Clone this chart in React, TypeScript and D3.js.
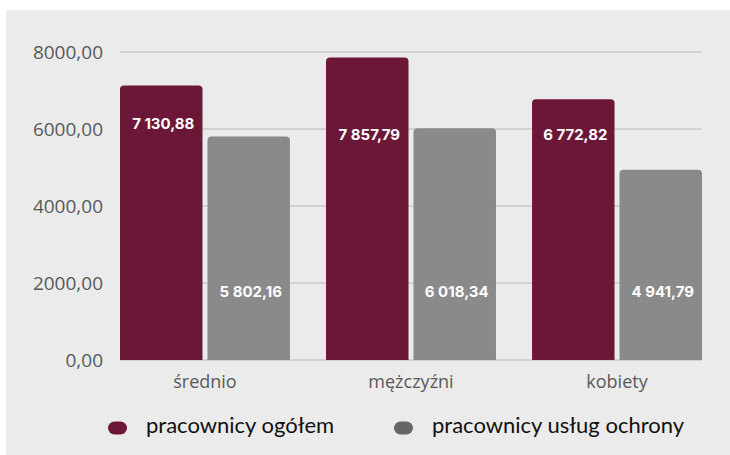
import React, { useEffect, useRef } from 'react';
import * as d3 from 'd3';

const categories = ['średnio', 'mężczyźni', 'kobiety'];
const seriesNames = ['pracownicy ogółem', 'pracownicy usług ochrony'];
const ogolem = [7130.88, 7857.79, 6772.82];
const ochrona = [5802.16, 6018.34, 4941.79];
const yTicks = [0, 2000, 4000, 6000, 8000];

const barColors = ['#6c1737', '#8a8a8a'];
const legendColors = ['#6c1737', '#666666'];

const fmtTick = (v: number) => d3.format('.2f')(v).replace('.', ',');
const fmtValue = (v: number) => d3.format(',.2f')(v).replace(/,/g, ' ').replace('.', ',');

// rect with rounded top corners only
function topRounded(x: number, y: number, w: number, h: number, r: number) {
  return `M${x},${y + h}V${y + r}Q${x},${y} ${x + r},${y}H${x + w - r}Q${x + w},${y} ${x + w},${y + r}V${y + h}Z`;
}

export default function App() {
  const ref = useRef<SVGSVGElement>(null);

  useEffect(() => {
    const W = 730, H = 455;
    const svg = d3.select(ref.current);
    svg.selectAll('*').remove();

    svg.append('rect').attr('x', 6).attr('y', 10).attr('width', W - 6).attr('height', H - 10).attr('fill', '#ebebeb');

    const x0 = d3.scaleBand().domain(categories).range([120, 702]).paddingInner(0.175).paddingOuter(0);
    const x1 = d3.scaleBand().domain(['0', '1']).range([0, x0.bandwidth()]).paddingInner(0.057);
    const y = d3.scaleLinear().domain([0, 8000]).range([360, 52]);

    const grid = svg.append('g');
    grid.selectAll('line').data(yTicks).enter().append('line')
      .attr('x1', 120).attr('x2', 702)
      .attr('y1', d => y(d)).attr('y2', d => y(d))
      .attr('stroke', '#cbcbcb').attr('stroke-width', 1.5);

    svg.append('g').selectAll('text').data(yTicks).enter().append('text')
      .attr('x', 103).attr('y', d => y(d)).attr('dy', '0.35em')
      .attr('text-anchor', 'end')
      .attr('font-family', '"Open Sans", sans-serif').attr('font-size', 19)
      .attr('fill', '#595959')
      .text(d => fmtTick(d));

    const series = [ogolem, ochrona];
    series.forEach((vals, si) => {
      const g = svg.append('g');
      g.selectAll('path').data(vals).enter().append('path')
        .attr('d', (d, i) => topRounded(x0(categories[i])! + x1(String(si))!, y(d), x1.bandwidth(), y(0) - y(d), 4))
        .attr('fill', barColors[si]);
      g.selectAll('text').data(vals).enter().append('text')
        .attr('x', (d, i) => x0(categories[i])! + x1(String(si))! + x1.bandwidth() / 2 + 2)
        .attr('y', (d, i) => si === 0 ? (i === 0 ? y(d) + 38 : y(5850)) : y(1770))
        .attr('dy', '0.35em')
        .attr('text-anchor', 'middle')
        .attr('font-family', 'Inter, sans-serif').attr('font-weight', 700).attr('font-size', 15)
        .attr('fill', '#ffffff')
        .text(d => fmtValue(d));
    });

    svg.append('g').selectAll('text').data(categories).enter().append('text')
      .attr('x', d => x0(d)! + x0.bandwidth() / 2).attr('y', 382).attr('dy', '0.35em')
      .attr('text-anchor', 'middle')
      .attr('font-family', '"Open Sans", sans-serif').attr('font-size', 18)
      .attr('fill', '#595959')
      .text(d => d);

    const legendX = [108, 394];
    const lg = svg.append('g');
    seriesNames.forEach((name, i) => {
      lg.append('rect').attr('x', legendX[i]).attr('y', 421.5).attr('width', 19).attr('height', 13).attr('rx', 6.5)
        .attr('fill', legendColors[i]);
      lg.append('text').attr('x', legendX[i] + 38).attr('y', 425).attr('dy', '0.35em')
        .attr('font-family', 'Lato, sans-serif').attr('font-size', 22)
        .attr('fill', '#111111')
        .text(name);
    });
  }, []);

  return <svg ref={ref} width={730} height={455} style={{ position: 'absolute', left: 0, top: 0 }} />;
}
